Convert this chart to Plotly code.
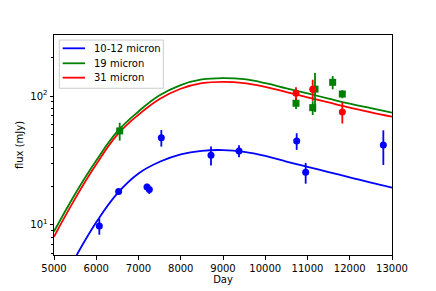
import plotly.graph_objects as go

# ---- model curves ----
model_day = [5000, 5500, 6000, 6500, 7000, 7500, 8000, 8500, 9000, 9500,
             10000, 10500, 11000, 11500, 12000, 12500, 13000]
blue_model = [None, 5.56, 10.5, 17.6, 25.1, 30.9, 35.3, 37.6, 38.1, 36.9,
              34.3, 31.0, 28.2, 25.7, 23.4, 21.3, 19.5]
green_model = [8.9, 17.4, 31.6, 53.1, 75.9, 101.2, 121.6, 134.3, 137.7, 134.9,
               125.9, 114.8, 104.7, 95.5, 87.1, 80.4, 74.3]
red_model = [8.1, 16.0, 29.5, 50.1, 71.6, 94.8, 113.8, 125.6, 128.8, 125.9,
             117.5, 107.2, 97.7, 89.1, 81.3, 74.8, 69.2]

# ---- observations ----
blue_day = [6073, 6530, 7201, 7256, 7540, 8716, 9379, 10744, 10957, 12795]
blue_flux = [9.8, 18.2, 19.7, 18.8, 47.5, 34.7, 37.5, 44.8, 25.6, 41.7]
blue_err = [1.4, 0.8, 1.2, 1.4, 7.0, 5.8, 4.0, 6.6, 4.7, 12.5]

green_day = [6555, 10728, 11123, 11178, 11596, 11824]
green_flux = [53.6, 87.8, 81.2, 113.0, 127.7, 103.6]
green_err = [8.5, 8.5, 10.0, 38.0, 15.0, 7.5]

red_day = [10728, 11123, 11824]
red_flux = [105.0, 112.7, 75.2]
red_err = [12.0, 21.0, 14.0]

series_names = ["10-12 micron", "19 micron", "31 micron"]
colors = ["#0000ff", "#008000", "#ff0000"]

x_ticks = [5000, 6000, 7000, 8000, 9000, 10000, 11000, 12000, 13000]
x_ticktext = ["5000", "6000", "7000", "8000", "9000", "10000", "11000", "12000", "13000"]
y_ticks = [10, 100]
y_ticktext = ["10<sup>1</sup>", "10<sup>2</sup>"]
y_minor = [6, 7, 8, 9, 20, 30, 40, 50, 60, 70, 80, 90, 200, 300]

FONT = "DejaVu Sans"

fig = go.Figure()

for name, col, ys in zip(series_names, colors, [blue_model, green_model, red_model]):
    fig.add_trace(go.Scatter(x=model_day, y=ys, mode="lines", name=name, showlegend=False,
                             line=dict(color=col, width=1.8, shape="spline", smoothing=1.2),
                             connectgaps=False))

fig.add_trace(go.Scatter(x=blue_day, y=blue_flux, mode="markers", showlegend=False,
                         marker=dict(color=colors[0], size=7, symbol="circle"),
                         error_y=dict(type="data", array=blue_err, color=colors[0],
                                      thickness=1.8, width=0)))
fig.add_trace(go.Scatter(x=green_day, y=green_flux, mode="markers", showlegend=False,
                         marker=dict(color=colors[1], size=7, symbol="square"),
                         error_y=dict(type="data", array=green_err, color=colors[1],
                                      thickness=1.8, width=0)))
fig.add_trace(go.Scatter(x=red_day, y=red_flux, mode="markers", showlegend=False,
                         marker=dict(color=colors[2], size=7, symbol="circle"),
                         error_y=dict(type="data", array=red_err, color=colors[2],
                                      thickness=1.8, width=0)))

# ---- matplotlib-style legend box (paper coordinates) ----
shapes = [dict(type="rect", xref="paper", yref="paper", x0=0.0157, x1=0.3234,
               y0=0.758, y1=0.977, fillcolor="rgba(255,255,255,0.8)",
               line=dict(color="#cccccc", width=1), layer="above")]
annotations = []
legend_rows = [0.9395, 0.8714, 0.806]
for name, col, yy in zip(series_names, colors, legend_rows):
    shapes.append(dict(type="line", xref="paper", yref="paper", x0=0.0257, x1=0.0917,
                       y0=yy, y1=yy, line=dict(color=col, width=1.8), layer="above"))
    annotations.append(dict(xref="paper", yref="paper", x=0.1133, y=yy, text=name,
                            showarrow=False, xanchor="left", yanchor="middle",
                            font=dict(family=FONT, size=10, color="black")))

fig.update_layout(
    width=436, height=291,
    margin=dict(l=54, r=44, t=35, b=36),
    paper_bgcolor="white", plot_bgcolor="white",
    font=dict(family=FONT, size=10, color="black"),
    showlegend=False, shapes=shapes, annotations=annotations,
)
fig.update_xaxes(
    range=[5000, 13000], tickmode="array", tickvals=x_ticks, ticktext=x_ticktext,
    ticks="outside", ticklen=3.5, tickwidth=1, tickcolor="black",
    showline=True, linecolor="black", linewidth=1, mirror=True,
    showgrid=False, zeroline=False, automargin=False,
    title=dict(text="Day", font=dict(family=FONT, size=10), standoff=2),
)
fig.update_yaxes(
    type="log", range=[0.767, 2.473], tickmode="array", tickvals=y_ticks,
    ticktext=y_ticktext,
    ticks="outside", ticklen=3.5, tickwidth=1, tickcolor="black",
    minor=dict(tickmode="array", tickvals=y_minor, ticks="outside", ticklen=2,
               tickwidth=0.8, tickcolor="black", showgrid=False),
    showline=True, linecolor="black", linewidth=1, mirror=True,
    showgrid=False, zeroline=False, automargin=False,
    title=dict(text="flux (mJy)", font=dict(family=FONT, size=10), standoff=4),
)

fig.write_html("out.html", config={"displayModeBar": False},
               post_script="document.body.style.margin='0';document.body.style.overflow='hidden';")
